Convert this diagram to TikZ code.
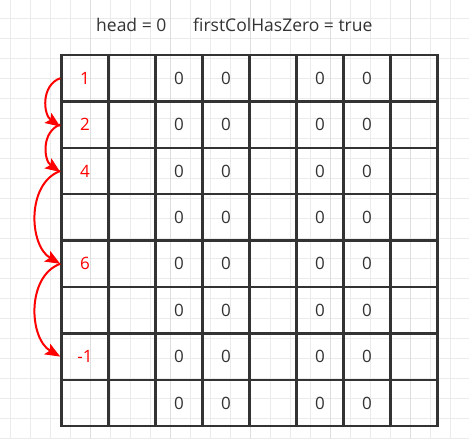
\documentclass[tikz,border=0pt]{standalone}
\usepackage{fontspec}
\setmainfont{Open Sans}
\usetikzlibrary{arrows.meta}
\definecolor{gridc}{HTML}{333333}
\definecolor{txt}{HTML}{333333}
\definecolor{bgminor}{HTML}{EBEBEB}
\definecolor{bgmajor}{HTML}{DEDEDE}
\definecolor{linkred}{HTML}{FF0000}
\begin{document}
\begin{tikzpicture}[x=1pt,y=-1pt,
  cell/.style={draw=gridc, line width=2.5pt, minimum width=47pt, minimum height=46.4pt,
    inner sep=0pt, font=\fontsize{17}{20}\selectfont, text=txt},
  celltext/.style={font=\fontsize{17}{20}\selectfont, text=txt, inner sep=0pt},
  title/.style={font=\fontsize{17.5}{21}\selectfont, text=txt, inner sep=0pt, anchor=base west},
  link/.style={draw=linkred, line width=2pt, -{Stealth[length=15pt,width=12pt,inset=3pt]}}]
\useasboundingbox (0,0) rectangle (469,439);
\fill[white] (0,0) rectangle (469,439);
% background graph paper
\foreach \i in {0,...,22} {
  \draw[bgminor, line width=0.8pt] (10.7+20*\i,0) -- (10.7+20*\i,439);
}
\foreach \i in {0,...,21} {
  \draw[bgminor, line width=0.8pt] (0,18.3+20*\i) -- (469,18.3+20*\i);
}
\foreach \i in {0,...,4} {
  \draw[bgmajor, line width=0.8pt] (90.7+80*\i,0) -- (90.7+80*\i,439);
}
% title
\node[title] (t1) at (96,31.7) {head = 0};
\node[title] (t2) at (193,31.7) {firstColHasZero = true};
% table
\foreach \r in {1,...,8} {
  \foreach \c in {1,...,8} {
    \node[cell] (c\r\c) at (38+47*\c, 31.8+46.4*\r) {};
  }
  \foreach \c in {3,4,6,7} {
    \node[celltext] (z\r\c) at (c\r\c) {0};
  }
}
\foreach \r/\v in {1/1,2/2,3/4,5/6,7/-1} {
  \node[celltext, text=linkred] (v\r) at (c\r1) {\v};
}
% links
\draw[link] (c11.west) to[out=200,in=145,looseness=1.1] ([yshift=-2pt]c21.west);
\draw[link] (c21.west) to[out=200,in=145,looseness=1.1] ([yshift=-1pt]c31.west);
\draw[link] (c31.west) to[out=200,in=150,looseness=1.0] (c51.west);
\draw[link] (c51.west) to[out=200,in=150,looseness=1.0] (c71.west);
\end{tikzpicture}
\end{document}
